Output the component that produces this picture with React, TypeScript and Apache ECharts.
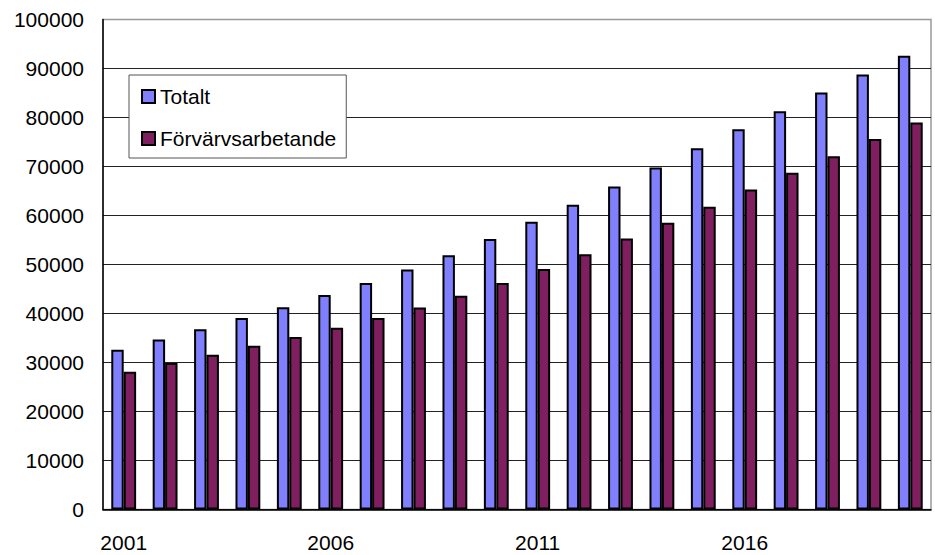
import React, { useEffect, useRef } from "react";
import * as echarts from "echarts";

const years = [
  "2001", "2002", "2003", "2004", "2005", "2006", "2007", "2008", "2009", "2010",
  "2011", "2012", "2013", "2014", "2015", "2016", "2017", "2018", "2019", "2020",
];

const totalt = [
  32600, 34700, 36800, 39100, 41300, 43800, 46200, 49000, 51900, 55200,
  58700, 62200, 65900, 69800, 73700, 77600, 81300, 85100, 88800, 92600,
];

const forvarvsarbetande = [
  28100, 29900, 31600, 33400, 35200, 37100, 39100, 41200, 43600, 46200,
  49100, 52100, 55300, 58500, 61800, 65300, 68700, 72100, 75600, 79000,
];

const seriesNames = ["Totalt", "Förvärvsarbetande"];
const seriesColors = ["#8080FF", "#7F1F5F"];

const FONT = "Liberation Sans, Arial, sans-serif";

export default function App() {
  const ref = useRef<HTMLDivElement>(null);

  useEffect(() => {
    if (!ref.current) return;
    const chart = echarts.init(ref.current, undefined, { renderer: "svg" });
    const gridColors = Array(10).fill("#222222").concat(["#999999"]);
    chart.setOption({
      animation: false,
      backgroundColor: "#ffffff",
      textStyle: { fontFamily: FONT },
      grid: {
        left: 103,
        right: 4,
        top: 19.5,
        bottom: 45.5,
        show: true,
        borderColor: "#999999",
        borderWidth: 1.5,
        backgroundColor: "transparent",
      },
      legend: {
        orient: "vertical",
        left: 129,
        top: 75,
        width: 216,
        padding: [11, 10, 9, 12],
        itemGap: 21,
        itemWidth: 13,
        itemHeight: 13,
        itemTextGap: 5,
        icon: "rect",
        backgroundColor: "#ffffff",
        borderColor: "#555555",
        borderWidth: 1,
        textStyle: { fontSize: 21, color: "#000", fontFamily: FONT, lineHeight: 20 },
        data: seriesNames,
      },
      xAxis: {
        type: "category",
        data: years,
        axisLine: { lineStyle: { color: "#000", width: 1.5 } },
        axisTick: { show: false },
        axisLabel: {
          interval: 4,
          fontSize: 21,
          color: "#000",
          margin: 22,
          fontFamily: FONT,
        },
      },
      yAxis: {
        type: "value",
        min: 0,
        max: 100000,
        interval: 10000,
        axisLine: { show: true, lineStyle: { color: "#000", width: 1.5 } },
        axisTick: { show: false },
        axisLabel: {
          fontSize: 21,
          color: "#000",
          margin: 19,
          fontFamily: FONT,
          formatter: (v: number) => String(v),
        },
        splitLine: { lineStyle: { color: gridColors, width: 1.2 } },
      },
      series: [
        {
          name: seriesNames[0],
          type: "bar",
          data: totalt,
          barGap: "0%",
          barCategoryGap: "40%",
          itemStyle: { color: seriesColors[0], borderColor: "#000", borderWidth: 2 },
        },
        {
          name: seriesNames[1],
          type: "bar",
          data: forvarvsarbetande,
          barGap: "0%",
          barCategoryGap: "40%",
          itemStyle: { color: seriesColors[1], borderColor: "#000", borderWidth: 2 },
        },
      ],
    });
    return () => chart.dispose();
  }, []);

  return <div ref={ref} style={{ width: 935, height: 555, position: "absolute", left: 0, top: 0 }} />;
}
